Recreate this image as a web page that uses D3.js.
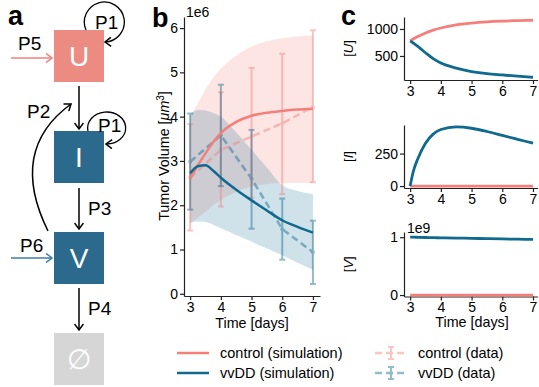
<!DOCTYPE html>
<html>
<head>
<meta charset="utf-8">
<script src="https://cdn.jsdelivr.net/npm/d3@7"></script>
<style>
  body { margin: 0; background: #fff; }
  text { font-family: "Liberation Sans", Arial, sans-serif; fill: #000; }
</style>
</head>
<body>
<div id="chart"></div>
<script>
var svgWidth = 539;
var svgHeight = 387;

var pink = "#f47f7a";
var blue = "#10698f";

// panel b: measured data (mean + error bars), units of 1e6 um^3
var days = [3, 4, 5, 6, 7];
var controlMean = [2.62, 3.25, 3.55, 3.85, 4.22];
var controlLow = [1.43, 1.97, 2.17, 2.25, 2.52];
var controlHigh = [3.83, 4.55, 5.1, 5.42, 5.95];
var vvddMean = [2.98, 3.58, 2.6, 1.46, 0.94];
var vvddLow = [1.9, 2.43, 1.47, 0.77, 0.22];
var vvddHigh = [4.07, 4.72, 3.7, 2.15, 1.65];

// panel b: simulations with bands
var simTime = [3, 3.25, 3.5, 3.75, 4, 4.5, 5, 5.5, 6, 6.5, 7];
var controlSim = [2.6, 2.9, 3.17, 3.42, 3.63, 3.88, 4.02, 4.09, 4.13, 4.16, 4.18];
var controlUpper = [4.0, 4.3, 4.62, 4.88, 5.08, 5.38, 5.58, 5.7, 5.77, 5.81, 5.83];
var controlLower = [1.6, 1.72, 1.85, 2.0, 2.12, 2.3, 2.42, 2.48, 2.5, 2.5, 2.5];
var vvddSim = [2.72, 2.88, 2.9, 2.78, 2.62, 2.35, 2.11, 1.88, 1.66, 1.51, 1.38];
var vvddUpper = [4.05, 4.15, 4.14, 4.08, 4.0, 3.65, 3.25, 2.85, 2.45, 2.32, 2.25];
var vvddLower = [1.6, 1.63, 1.62, 1.56, 1.48, 1.33, 1.18, 1.02, 0.87, 0.7, 0.54];

// panel c: state variables
var cTime = [3, 3.1, 3.25, 3.5, 3.75, 4, 4.5, 5, 5.5, 6, 6.5, 7];
var uControl = [778, 813, 860, 927, 978, 1018, 1076, 1110, 1133, 1147, 1155, 1162];
var uVvdd = [778, 740, 680, 560, 450, 368, 275, 212, 172, 148, 125, 106];
var iControl = [0, 0, 0, 0, 0, 0, 0, 0, 0, 0, 0, 0];
var iVvdd = [0, 110, 210, 330, 400, 435, 455, 445, 420, 390, 360, 330];
var vControl = [0, 0, 0, 0, 0, 0, 0, 0, 0, 0, 0, 0];
var vVvdd = [1.0, 1.0, 0.998, 0.995, 0.992, 0.99, 0.985, 0.98, 0.975, 0.97, 0.966, 0.962];

var svg = d3.select("#chart")
  .append("svg")
  .attr("width", svgWidth)
  .attr("height", svgHeight);

var defs = svg.append("defs");
[["arrBlack", "#000"], ["arrPink", pink], ["arrBlue", "#3c7ea3"]].forEach(function(m) {
  defs.append("marker")
    .attr("id", m[0])
    .attr("viewBox", "-8 -5 10 10")
    .attr("markerWidth", 10)
    .attr("markerHeight", 10)
    .attr("markerUnits", "userSpaceOnUse")
    .attr("orient", "auto")
    .append("path")
    .attr("d", "M-6,-4.5 L0,0 L-6,4.5")
    .attr("fill", "none")
    .attr("stroke", m[1])
    .attr("stroke-width", 1.5);
});

// ---------- panel a: model diagram ----------
var diagram = svg.append("g");
var boxes = [
  {label: "U", y: 30, color: "#ec8b82"},
  {label: "I", y: 131, color: "#2c6a8d"},
  {label: "V", y: 232, color: "#2c6a8d"},
  {label: "\u2205", y: 333, color: "#d6d6d6"}
];
boxes.forEach(function(b) {
  diagram.append("rect")
    .attr("x", 54).attr("y", b.y)
    .attr("width", 50).attr("height", 52)
    .attr("fill", b.color);
  diagram.append("text")
    .attr("x", 79).attr("y", b.y + 36)
    .attr("text-anchor", "middle")
    .style("font-size", "28px")
    .style("fill", "#fff")
    .text(b.label);
});

var arrows = [
  [79, 86, 79, 129], [79, 188, 79, 229], [79, 288, 79, 330]
];
arrows.forEach(function(a) {
  diagram.append("line")
    .attr("x1", a[0]).attr("y1", a[1]).attr("x2", a[2]).attr("y2", a[3])
    .attr("stroke", "#000").attr("stroke-width", 1.5)
    .attr("marker-end", "url(#arrBlack)");
});
diagram.append("line")
  .attr("x1", 11).attr("y1", 58).attr("x2", 52).attr("y2", 58)
  .attr("stroke", pink).attr("stroke-width", 1.5)
  .attr("marker-end", "url(#arrPink)");
diagram.append("line")
  .attr("x1", 11).attr("y1", 258).attr("x2", 52).attr("y2", 258)
  .attr("stroke", "#3c7ea3").attr("stroke-width", 1.5)
  .attr("marker-end", "url(#arrBlue)");

// P2 curve from V up to U->I arrow, self loops P1
diagram.append("path")
  .attr("d", "M48,231 Q8,150 71,104")
  .attr("fill", "none").attr("stroke", "#000").attr("stroke-width", 1.5)
  .attr("marker-end", "url(#arrBlack)");
diagram.append("path")
  .attr("d", "M86,30 A20,20 0 1,1 105,42")
  .attr("fill", "none").attr("stroke", "#000").attr("stroke-width", 1.3)
  .attr("marker-end", "url(#arrBlack)");
diagram.append("path")
  .attr("d", "M88,131 A19,16 0 1,1 106,144")
  .attr("fill", "none").attr("stroke", "#000").attr("stroke-width", 1.3)
  .attr("marker-end", "url(#arrBlack)");

var pLabels = [
  ["P1", 95, 29], ["P1", 98, 132], ["P5", 18, 50], ["P2", 27, 118],
  ["P3", 88, 215], ["P6", 20, 252], ["P4", 88, 315]
];
pLabels.forEach(function(p) {
  diagram.append("text")
    .attr("x", p[1]).attr("y", p[2])
    .style("font-size", "19px")
    .text(p[0]);
});

// panel letters
[["a", 8, 25], ["b", 152, 27], ["c", 341, 25]].forEach(function(l) {
  svg.append("text")
    .attr("x", l[1]).attr("y", l[2])
    .style("font-size", "27px")
    .style("font-weight", "bold")
    .text(l[0]);
});

var intFmt = d3.format("d");

// ---------- panel b: tumor volume ----------
var xB = d3.scaleLinear().domain([2.8, 7.23]).range([184, 320]);
var yB = d3.scaleLinear().domain([-0.05, 6.25]).range([296, 17]);

var panelB = svg.append("g");

function band(time, lo, hi) {
  return d3.area()
    .x(function(d, i) { return xB(time[i]); })
    .y0(function(d, i) { return yB(lo[i]); })
    .y1(function(d, i) { return yB(hi[i]); })
    .curve(d3.curveMonotoneX)(time);
}
panelB.append("path").attr("d", band(simTime, controlLower, controlUpper))
  .attr("fill", pink).attr("fill-opacity", 0.2);
panelB.append("path").attr("d", band(simTime, vvddLower, vvddUpper))
  .attr("fill", blue).attr("fill-opacity", 0.2);

function simLine(time, vals, xs, ys) {
  return d3.line()
    .x(function(d, i) { return xs(time[i]); })
    .y(function(d, i) { return ys(vals[i]); })
    .curve(d3.curveMonotoneX)(time);
}

// measured data: dashed line + error bars
function drawData(mean, low, high, color) {
  var g = panelB.append("g").attr("opacity", 0.45);
  g.append("path")
    .attr("d", d3.line().x(function(d, i) { return xB(days[i]); })
      .y(function(d, i) { return yB(mean[i]); })(days))
    .attr("fill", "none").attr("stroke", color)
    .attr("stroke-width", 2.5).attr("stroke-dasharray", "7,4");
  days.forEach(function(d, i) {
    g.append("line")
      .attr("x1", xB(d)).attr("x2", xB(d))
      .attr("y1", yB(low[i])).attr("y2", yB(high[i]))
      .attr("stroke", color).attr("stroke-width", 2);
    [low[i], high[i]].forEach(function(v) {
      g.append("line")
        .attr("x1", xB(d) - 3).attr("x2", xB(d) + 3)
        .attr("y1", yB(v)).attr("y2", yB(v))
        .attr("stroke", color).attr("stroke-width", 2);
    });
    g.append("circle")
      .attr("cx", xB(d)).attr("cy", yB(mean[i])).attr("r", 2)
      .attr("fill", color);
  });
}
drawData(controlMean, controlLow, controlHigh, pink);
drawData(vvddMean, vvddLow, vvddHigh, blue);

panelB.append("path").attr("d", simLine(simTime, controlSim, xB, yB))
  .attr("fill", "none").attr("stroke", pink).attr("stroke-width", 2.5);
panelB.append("path").attr("d", simLine(simTime, vvddSim, xB, yB))
  .attr("fill", "none").attr("stroke", blue).attr("stroke-width", 2.5);

panelB.append("g")
  .attr("transform", "translate(0,296)")
  .call(d3.axisBottom(xB).tickValues(days).tickFormat(intFmt)
    .tickSize(4).tickPadding(2).tickSizeOuter(0))
  .call(function(g) { g.selectAll("text").style("font-size", "14px").attr("fill", "#000"); });
panelB.append("g")
  .attr("transform", "translate(184,0)")
  .call(d3.axisLeft(yB).tickValues([0, 1, 2, 3, 4, 5, 6]).tickFormat(intFmt)
    .tickSize(4).tickPadding(2).tickSizeOuter(0))
  .call(function(g) { g.selectAll("text").style("font-size", "14px").attr("fill", "#000"); });
panelB.selectAll(".domain, .tick line").attr("stroke", "#222").attr("stroke-width", 1.2);

panelB.append("text").attr("x", 186).attr("y", 17).style("font-size", "14px").text("1e6");
panelB.append("text").attr("x", 252).attr("y", 328)
  .attr("text-anchor", "middle").style("font-size", "14.3px").text("Time [days]");
var yLab = panelB.append("text")
  .attr("transform", "translate(169,156) rotate(-90)")
  .attr("text-anchor", "middle")
  .style("font-size", "14.3px");
yLab.append("tspan").text("Tumor Volume [");
yLab.append("tspan").style("font-style", "italic").text("\u03bcm");
yLab.append("tspan").attr("dy", -5).style("font-size", "10px").text("3");
yLab.append("tspan").attr("dy", 5).text("]");

// ---------- panel c: U, I, V ----------
var xC = d3.scaleLinear().domain([2.8, 7.15]).range([404, 537.6]);
var subplots = [
  {name: "U", top: 17, bottom: 80, domain: [55, 1222], ticks: [500, 1000], control: uControl, vvdd: uVvdd},
  {name: "I", top: 125, bottom: 188, domain: [-15, 470], ticks: [0, 250], control: iControl, vvdd: iVvdd},
  {name: "V", top: 232, bottom: 296.5, domain: [-0.025, 1.09], ticks: [0, 1], control: vControl, vvdd: vVvdd}
];
subplots.forEach(function(s) {
  var yC = d3.scaleLinear().domain(s.domain).range([s.bottom, s.top]);
  var g = svg.append("g");
  g.append("g")
    .attr("transform", "translate(0," + s.bottom + ")")
    .call(d3.axisBottom(xC).tickValues(days).tickFormat(intFmt)
      .tickSize(4).tickPadding(2).tickSizeOuter(0));
  g.append("g")
    .attr("transform", "translate(404,0)")
    .call(d3.axisLeft(yC).tickValues(s.ticks).tickFormat(intFmt)
      .tickSize(4).tickPadding(2).tickSizeOuter(0));
  g.selectAll("text").style("font-size", "14px").attr("fill", "#000");
  g.selectAll(".domain, .tick line").attr("stroke", "#222").attr("stroke-width", 1.2);
  g.append("path").attr("d", simLine(cTime, s.control, xC, yC))
    .attr("fill", "none").attr("stroke", pink).attr("stroke-width", 2.8);
  g.append("path").attr("d", simLine(cTime, s.vvdd, xC, yC))
    .attr("fill", "none").attr("stroke", blue).attr("stroke-width", 2.8);
  var lab = g.append("text")
    .attr("transform", "translate(353," + ((s.top + s.bottom) / 2) + ") rotate(-90)")
    .attr("text-anchor", "middle")
    .style("font-size", "13px");
  lab.append("tspan").text("[");
  lab.append("tspan").style("font-style", "italic").text(s.name);
  lab.append("tspan").text("]");
});
svg.append("text").attr("x", 407).attr("y", 233).style("font-size", "14px").text("1e9");
svg.append("text").attr("x", 472).attr("y", 327)
  .attr("text-anchor", "middle").style("font-size", "14.3px").text("Time [days]");

// ---------- legend ----------
var legend = svg.append("g");
var legendItems = [
  {label: "control (simulation)", color: pink, x: 177, y: 353, data: false},
  {label: "vvDD (simulation)", color: blue, x: 177, y: 373, data: false},
  {label: "control (data)", color: pink, x: 375, y: 353, data: true},
  {label: "vvDD (data)", color: blue, x: 375, y: 373, data: true}
];
legendItems.forEach(function(d) {
  var g = legend.append("g");
  if (d.data) {
    g.attr("opacity", 0.45);
    g.append("line").attr("x1", d.x).attr("x2", d.x + 32)
      .attr("y1", d.y).attr("y2", d.y)
      .attr("stroke", d.color).attr("stroke-width", 2.5).attr("stroke-dasharray", "7,4");
    g.append("line").attr("x1", d.x + 16).attr("x2", d.x + 16)
      .attr("y1", d.y - 6).attr("y2", d.y + 6)
      .attr("stroke", d.color).attr("stroke-width", 2);
    [-6, 6].forEach(function(o) {
      g.append("line").attr("x1", d.x + 13).attr("x2", d.x + 19)
        .attr("y1", d.y + o).attr("y2", d.y + o)
        .attr("stroke", d.color).attr("stroke-width", 2);
    });
    g.append("circle").attr("cx", d.x + 16).attr("cy", d.y).attr("r", 2).attr("fill", d.color);
  } else {
    g.append("line").attr("x1", d.x).attr("x2", d.x + 32)
      .attr("y1", d.y).attr("y2", d.y)
      .attr("stroke", d.color).attr("stroke-width", 2.5);
  }
  legend.append("text")
    .attr("x", d.x + 43).attr("y", d.y + 5)
    .style("font-size", "14.5px")
    .text(d.label);
});
</script>
</body>
</html>
